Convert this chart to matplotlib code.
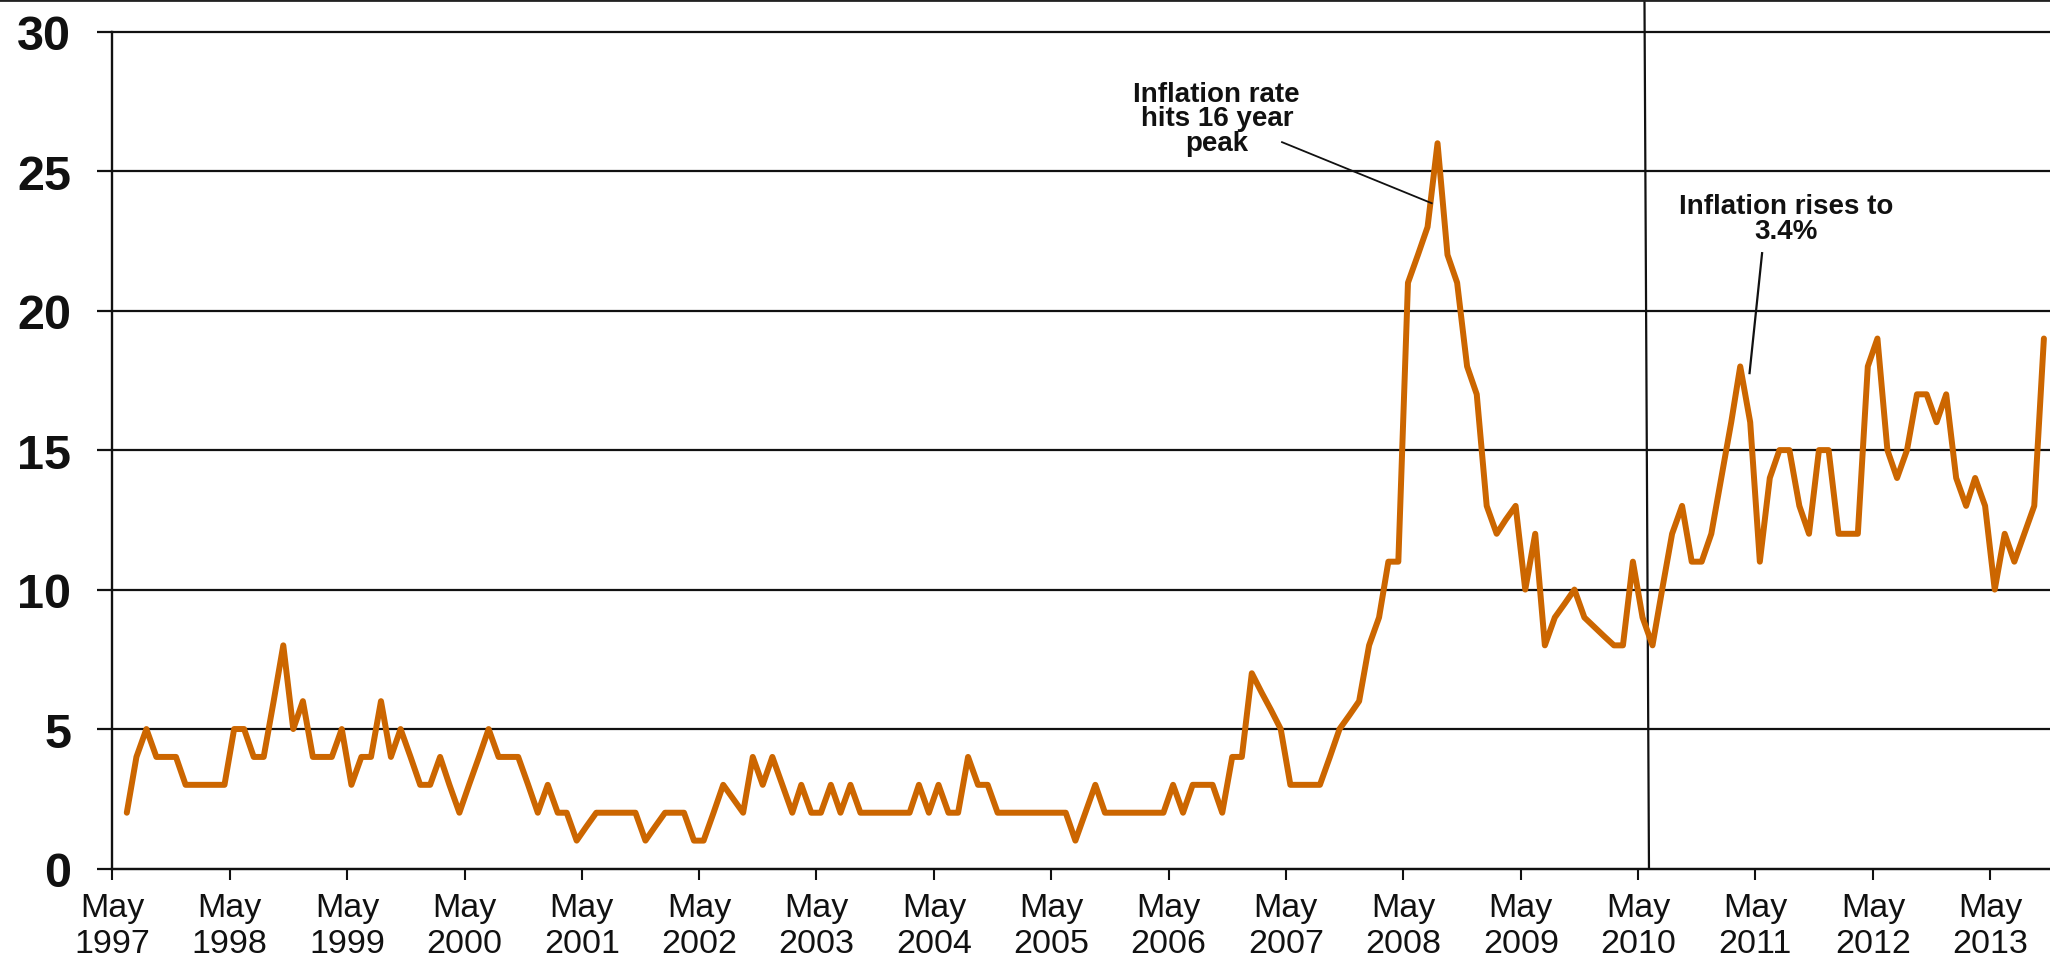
import matplotlib
matplotlib.use("Agg")
import matplotlib.pyplot as plt
import matplotlib.dates as mdates
from matplotlib.lines import Line2D
import pandas as pd

plt.rcParams['font.family'] = ['Liberation Sans', 'DejaVu Sans']

# ---- data (monthly, Jun 1997 - Oct 2013) ----
start_month = "1997-06"
values = [2, 4, 5, 4, 4, 4, 3, 3, 3, 3, 3, 5, 5, 4, 4, 6, 8, 5, 6, 4, 4, 4, 5, 3, 4,
          4, 6, 4, 5, 4, 3, 3, 4, 3, 2, 3, 4, 5, 4, 4, 4, 3, 2, 3, 2, 2, 1, 1.5,
          2, 2, 2, 2, 2, 1, 1.5, 2, 2, 2, 1, 1, 2, 3, 2.5, 2, 4, 3, 4, 3, 2, 3, 2, 2,
          3, 2, 3, 2, 2, 2, 2, 2, 2, 3, 2, 3, 2, 2, 4, 3, 3, 2, 2, 2, 2, 2, 2, 2, 2,
          1, 2, 3, 2, 2, 2, 2, 2, 2, 2, 3, 2, 3, 3, 3, 2, 4, 4, 7, 6.3, 5.7, 5,
          3, 3, 3, 3, 4, 5, 5.5, 6, 8, 9, 11, 11, 21, 22, 23, 26, 22, 21, 18, 17,
          13, 12, 12.5, 13, 10, 12, 8, 9, 9.5, 10, 9, 8.67, 8.33, 8, 8, 11, 9, 8,
          10, 12, 13, 11, 11, 12, 14, 16, 18, 16, 11, 14, 15, 15, 13, 12, 15, 15,
          12, 12, 12, 18, 19, 15, 14, 15, 17, 17, 16, 17, 14, 13, 14, 13, 10, 12,
          11, 12, 13, 19]
tick_years = list(range(1997, 2014))
tick_labels = [f"May\n{y}" for y in tick_years]
y_ticks = [0, 5, 10, 15, 20, 25, 30]

dates = pd.date_range(start_month, periods=len(values), freq="MS") + pd.Timedelta(days=14)

# ---- figure ----
fig = plt.figure(figsize=(20.5, 9.7), dpi=100)
ax = fig.add_axes([0.0548, 0.1036, 0.9452, 0.8627])

ax.plot(dates, values, color="#CC6600", linewidth=4.3, solid_joinstyle="round",
        solid_capstyle="round", zorder=3)

ax.set_xlim(pd.Timestamp("1997-05-01"), pd.Timestamp("2013-11-03"))
ax.set_ylim(0, 30)

ticks = [pd.Timestamp(f"{y}-05-01") for y in tick_years]
ax.set_xticks(ticks)
ax.set_xticklabels(tick_labels, fontsize=24.5, linespacing=1.2)
ax.set_yticks(y_ticks)
ax.set_yticklabels([str(v) for v in y_ticks], fontsize=35, fontweight="bold")

ax.grid(axis="y", color="#111111", linewidth=1.6)
for gl in ax.get_ygridlines():
    gl.set_clip_on(False)
ax.set_axisbelow(True)
ax.tick_params(axis="y", length=10.5, width=1.6, color="#111111", pad=19, colors="#111111")
ax.tick_params(axis="x", length=7.7, width=1.5, color="#111111", pad=9, colors="#111111")

for s in ["top", "right"]:
    ax.spines[s].set_visible(False)
ax.spines["left"].set_color("#111111")
ax.spines["left"].set_linewidth(1.7)
ax.spines["bottom"].set_color("#111111")
ax.spines["bottom"].set_linewidth(1.6)

# vertical marker line around May 2010
vline = Line2D([mdates.date2num(pd.Timestamp("2010-05-21")), mdates.date2num(pd.Timestamp("2010-06-04"))],
               [31.2, 0], color="#111111", linewidth=1.6, clip_on=False, zorder=2)
ax.add_line(vline)

# annotations
ax.text(pd.Timestamp("2006-09-28"), 26.9, "Inflation rate\nhits 16 year\npeak",
        ha="center", va="center", fontsize=20, fontweight="bold", linespacing=0.92,
        color="#111111")
ax.plot([pd.Timestamp("2007-04-19"), pd.Timestamp("2008-07-28")], [26.04, 23.85],
        color="#111111", linewidth=1.3, zorder=4)

ax.text(pd.Timestamp("2011-08-04"), 23.3, "Inflation rises to\n3.4%",
        ha="center", va="center", fontsize=20, fontweight="bold", linespacing=0.95,
        color="#111111")
ax.plot([pd.Timestamp("2011-05-22"), pd.Timestamp("2011-04-13")], [22.06, 17.76],
        color="#111111", linewidth=1.6, zorder=4)

# top frame line
fig.add_artist(Line2D([0, 1], [0.999, 0.999], transform=fig.transFigure,
                      color="#222222", linewidth=2))

fig.savefig("out.png", dpi=100)
